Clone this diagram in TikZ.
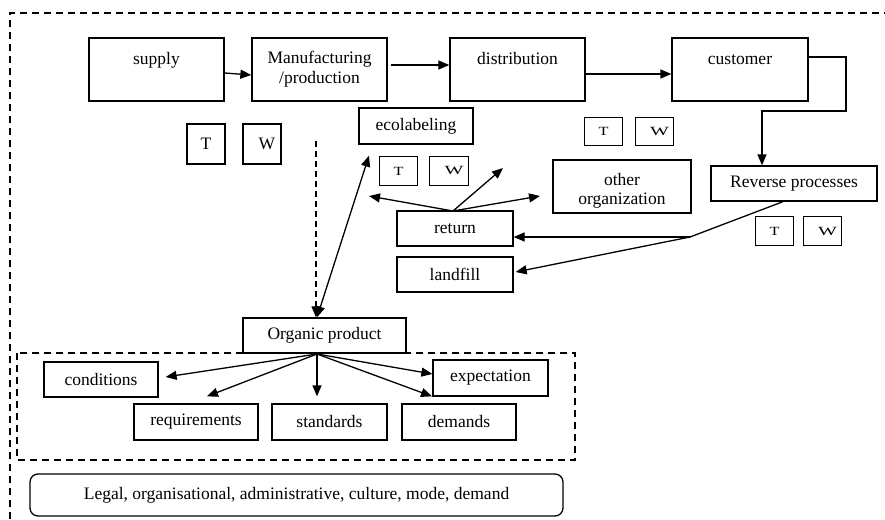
\documentclass[tikz,border=0pt]{standalone}
\usepackage{fontspec}
\usepackage{graphicx}
\setmainfont{Liberation Serif}
\usetikzlibrary{arrows.meta}
\newcommand\mainfs{\fontsize{17.5}{20}\selectfont}
\newcommand\smallfs{\fontsize{12.5}{14}\selectfont}
\newcommand\smT{\scalebox{1.3}[1]{\smallfs T}}
\newcommand\smW{\hspace*{10pt}\scalebox{1.6}[1]{\smallfs W}}
\begin{document}
\begin{tikzpicture}[x=1pt,y=-1pt,
  box/.style={draw,line width=1.3pt,inner sep=0pt,font=\mainfs,align=center},
  topbox/.style={box,minimum width=135pt,text height=26pt,text depth=37pt},
  tw/.style={draw,line width=1.3pt,inner sep=0pt,font=\mainfs},
  stw/.style={draw,line width=1.3pt,inner sep=0pt,font=\smallfs,minimum width=38.5pt,minimum height=28.5pt},
  txt/.style={inner sep=0pt,font=\mainfs,align=center},
  arr/.style={line width=1.3pt,-{Triangle[length=11pt,width=9pt]}},
  darr/.style={line width=1.3pt,{Triangle[length=11pt,width=9pt]}-{Triangle[length=11pt,width=9pt]}},
  plain/.style={line width=1.3pt},
  dsh/.style={line width=1.2pt,dash pattern=on 7pt off 5pt},
  dvarr/.style={line width=1.1pt,dash pattern=on 6pt off 4pt,-{Triangle[length=11pt,width=9pt]}}]
\useasboundingbox (0,0) rectangle (885,519);
% outer and inner dashed frames
\draw[dsh] (10,519) -- (10,13) -- (885,13);
\draw[dsh] (17,353) rectangle (575,460);
% top row
\node[topbox] (supply) at (156.5,69.5) {supply};
\node[box,minimum width=135pt,minimum height=63pt] (manuf) at (319.5,69.5) {Manufacturing\\/production};
\node[topbox] (dist) at (517.5,69.5) {distribution};
\node[topbox,minimum width=136pt] (customer) at (740,69.5) {customer};
% T / W boxes
\node[tw,minimum width=38pt,minimum height=40pt] (t1) at (206,144) {T};
\node[tw,minimum width=38pt,minimum height=40pt] (w1) at (262,144) {\hspace*{10pt}W};
\node[stw] (t2) at (398.5,171) {\smT};
\node[stw] (w2) at (449,171) {\smW};
\node[stw] (t3) at (603.5,131.5) {\smT};
\node[stw] (w3) at (654.5,131.5) {\smW};
\node[stw] (t4) at (774.5,231) {\smT};
\node[stw] (w4) at (822.5,231) {\smW};
% middle boxes
\node[box,minimum width=114pt,minimum height=36pt] (eco) at (416,126) {ecolabeling};
\node[box,minimum width=138pt,minimum height=53pt] (other) at (622,186.5) {};
\node[txt] (othert) at (622,190.5) {other\\[-1pt]organization};
\node[box,minimum width=166pt,minimum height=35pt] (reverse) at (794,183.5) {Reverse processes};
\node[box,minimum width=116pt,minimum height=35pt] (return) at (455,228.5) {return};
\node[box,minimum width=116pt,minimum height=35pt] (landfill) at (455,274.5) {landfill};
\node[box,minimum width=163pt,minimum height=35pt] (organic) at (324.5,335.5) {Organic product};
% lower boxes
\node[box,minimum width=114pt,minimum height=35pt] (cond) at (101,379.5) {conditions};
\node[box,minimum width=124pt,minimum height=36pt] (req) at (196,422) {requirements};
\node[box,minimum width=115pt,minimum height=36pt] (std) at (329.5,422) {standards};
\node[box,minimum width=114pt,minimum height=36pt] (dem) at (459,422) {demands};
\node[box,minimum width=115pt,minimum height=36pt] (expe) at (490.5,378) {expectation};
\node[box,rounded corners=8pt,minimum width=533pt,minimum height=42pt] (legal) at (296.5,495) {Legal, organisational, administrative, culture, mode, demand};
% top-row connectors
\draw[arr] ([yshift=-3.5pt]supply.east) -- ([yshift=-5.5pt]manuf.west);
\draw[arr] ([xshift=3pt,yshift=4.5pt]manuf.east) -- ([yshift=4.5pt]dist.west);
\draw[arr] ([yshift=-4.5pt]dist.east) -- ([yshift=-4.5pt]customer.east -| customer.west);
\coordinate (cr) at (762,111);
\draw[arr] ([yshift=12.5pt]customer.east) -| (846,111) -- (cr) -- (cr |- reverse.north);
% dashed vertical
\coordinate (dv) at (316,141);
\draw[dvarr] (dv) -- (organic.north -| dv);
% double arrow organic - ecolabeling
\draw[darr] ([xshift=-7.5pt]organic.north) -- ([xshift=-47pt,yshift=-11pt]eco.south);
% return arrows
\coordinate (rt) at (453,211);
\coordinate (ra) at (369,196);
\coordinate (rb) at (503,168);
\coordinate (rc) at (540,196);
\draw[arr] (rt) -- (ra);
\draw[arr] (rt) -- (rb);
\draw[arr] (rt) -- (rc);
% reverse processes to return / landfill
\coordinate (rv) at (690,237);
\draw[plain] ([xshift=-11pt]reverse.south) -- (rv);
\draw[arr] (rv) -- (rv -| return.east);
\draw[arr] (rv) -- ([xshift=2pt,yshift=2.5pt]landfill.east);
% organic product arrows
\coordinate (ob) at (317,354);
\draw[arr] (ob) -- ([xshift=7pt,yshift=2.5pt]cond.east);
\draw[arr] (ob) -- ([xshift=11pt,yshift=7pt]req.north);
\draw[arr] (ob) -- ([xshift=-12.5pt,yshift=7pt]std.north);
\draw[arr] (ob) -- ([yshift=4pt]expe.west);
\draw[arr] (ob) -- ([xshift=-27pt,yshift=7pt]dem.north);
\end{tikzpicture}
\end{document}
